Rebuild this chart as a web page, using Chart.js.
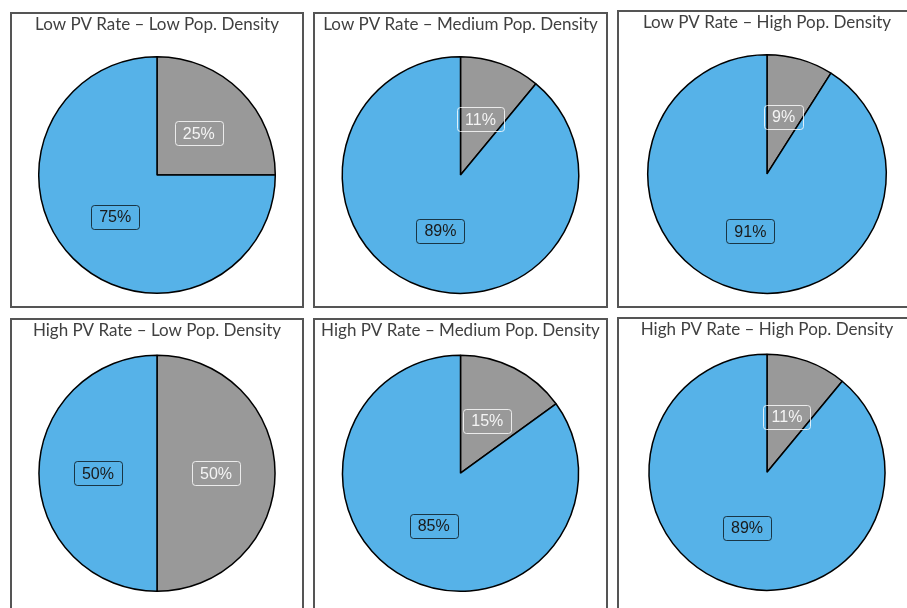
<!DOCTYPE html>
<html>
<head>
<meta charset="utf-8">
<title>PV rate by population density</title>
<script src="https://cdn.jsdelivr.net/npm/chart.js@4"></script>
<style>
  html, body { margin: 0; padding: 0; background: #fff; }
  body { width: 907px; height: 608px; position: relative; overflow: hidden; }
  .panel { position: absolute; box-sizing: border-box; border: 2px solid #555; background: #fff; }
  .panel canvas { display: block; }
</style>
</head>
<body>
<div class="panel" id="p0" style="left:10px; top:12px; width:294px; height:296px;"><canvas id="c0" width="290" height="292"></canvas></div>
<div class="panel" id="p1" style="left:313px; top:12px; width:295px; height:296px;"><canvas id="c1" width="291" height="292"></canvas></div>
<div class="panel" id="p2" style="left:617px; top:10px; width:300px; height:298px;"><canvas id="c2" width="296" height="294"></canvas></div>
<div class="panel" id="p3" style="left:10px; top:318px; width:294px; height:300px;"><canvas id="c3" width="290" height="296"></canvas></div>
<div class="panel" id="p4" style="left:313px; top:318px; width:295px; height:300px;"><canvas id="c4" width="291" height="296"></canvas></div>
<div class="panel" id="p5" style="left:617px; top:317px; width:300px; height:300px;"><canvas id="c5" width="296" height="296"></canvas></div>

<script>
// datos de cada panel (porcentajes)
const panelTitles = [
  'Low PV Rate \u2013 Low Pop. Density',
  'Low PV Rate \u2013 Medium Pop. Density',
  'Low PV Rate \u2013 High Pop. Density',
  'High PV Rate \u2013 Low Pop. Density',
  'High PV Rate \u2013 Medium Pop. Density',
  'High PV Rate \u2013 High Pop. Density'
];
const categories = ['Gray share', 'Blue share'];
const grayShare = [25, 11, 9, 50, 15, 11];
const blueShare = [75, 89, 91, 50, 85, 89];

const sliceColors = ['#999999', '#56B2E8'];
// estilo de la etiqueta segun la porcion
const labelText = ['#f4f4f4', '#1a1a1a'];
const labelEdge = ['rgba(255,255,255,0.8)', 'rgba(0,0,0,0.7)'];

// etiquetas con caja redondeada, en el punto medio del sector
const boxLabels = {
  id: 'boxLabels',
  afterDatasetsDraw(chart) {
    const ctx = chart.ctx;
    const ds = chart.data.datasets[0];
    chart.getDatasetMeta(0).data.forEach((arc, i) => {
      const p = arc.tooltipPosition();
      const text = ds.data[i] + '%';
      ctx.save();
      ctx.font = '16px "Liberation Sans", Arial, sans-serif';
      const w = Math.round(ctx.measureText(text).width + 16);
      const h = 24;
      const x = Math.round(p.x - w / 2) + 0.5;
      const y = Math.round(p.y - h / 2) + 0.5;
      ctx.beginPath();
      ctx.roundRect(x, y, w, h, 3);
      ctx.lineWidth = 1;
      ctx.strokeStyle = labelEdge[i];
      ctx.stroke();
      ctx.fillStyle = labelText[i];
      ctx.textAlign = 'center';
      ctx.textBaseline = 'middle';
      ctx.fillText(text, p.x, p.y + 1);
      ctx.restore();
    });
  }
};

function crearPie(i) {
  const topRow = i < 3;
  new Chart(document.getElementById('c' + i), {
    type: 'pie',
    data: {
      labels: categories,
      datasets: [{
        data: [grayShare[i], blueShare[i]],
        backgroundColor: sliceColors,
        borderColor: '#000',
        borderWidth: 1.5
      }]
    },
    options: {
      responsive: false,
      animation: false,
      layout: { padding: { top: 0, bottom: topRow ? 12 : 24, left: 0, right: 0 } },
      plugins: {
        legend: { display: false },
        tooltip: { enabled: false },
        title: {
          display: true,
          text: panelTitles[i],
          color: '#404040',
          font: { family: 'Lato, "Noto Sans", sans-serif', size: 17, weight: 'normal' },
          padding: { top: 0, bottom: topRow ? 21.5 : 14 }
        }
      }
    },
    plugins: [boxLabels]
  });
}

document.addEventListener('DOMContentLoaded', () => {
  for (let i = 0; i < 6; i++) crearPie(i);
});
</script>
</body>
</html>
